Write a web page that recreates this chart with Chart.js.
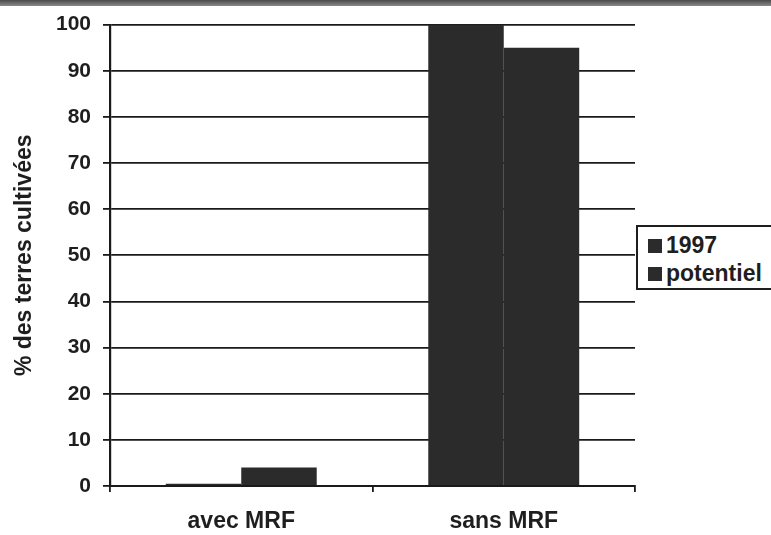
<!DOCTYPE html>
<html>
<head>
<meta charset="utf-8">
<script src="https://cdn.jsdelivr.net/npm/chart.js@4.4.0/dist/chart.umd.min.js"></script>
<style>
  html, body { margin: 0; padding: 0; background: #fff; overflow: hidden; }
  #wrap { position: relative; width: 771px; height: 535px; }
  #scan { position: absolute; left: 0; top: 0; width: 771px; height: 6px;
          background: linear-gradient(#4a4a4a, #8a8a8a); }
  #legend { position: absolute; left: 636px; top: 225px; width: 160px; height: 65px;
            border: 2px solid #1e1e1e; box-sizing: border-box; background: #fff;
            font-family: "Liberation Sans", Arial, sans-serif; font-weight: bold;
            font-size: 23px; color: #1e1e1e; }
  .item { position: absolute; left: 10px; display: flex; align-items: center; }
  .sw { width: 14px; height: 14px; background: #2b2b2b; margin-right: 4px; }
</style>
</head>
<body>
<div id="wrap">
  <canvas id="c" width="771" height="535"></canvas>
  <div id="scan"></div>
  <div id="legend"></div>
</div>
<script>
const categories = ['avec MRF', 'sans MRF'];
const series1997 = [0.5, 100];
const seriesPotentiel = [4, 95];
const seriesNames = ['1997', 'potentiel'];
const yMin = 0, yMax = 100, yStep = 10;
const yTitle = '% des terres cultivées';

const barColor = '#2b2b2b';
const lineColor = '#1a1a1a';
const textColor = '#1e1e1e';
const fontFam = '"Liberation Sans", Arial, sans-serif';

const chart = new Chart(document.getElementById('c'), {
  type: 'bar',
  data: {
    labels: categories,
    datasets: [
      { label: seriesNames[0], data: series1997, backgroundColor: barColor, borderWidth: 0,
        categoryPercentage: 0.575, barPercentage: 1.0 },
      { label: seriesNames[1], data: seriesPotentiel, backgroundColor: barColor, borderWidth: 0,
        categoryPercentage: 0.575, barPercentage: 1.0 }
    ]
  },
  options: {
    responsive: false,
    animation: false,
    devicePixelRatio: 1,
    layout: { padding: { left: 11, right: 136, top: 24, bottom: 0 } },
    plugins: { legend: { display: false }, tooltip: { enabled: false } },
    scales: {
      x: {
        offset: true,
        grid: { display: true, drawOnChartArea: false, drawTicks: true, tickLength: 6,
                color: lineColor, lineWidth: 1.8, offset: true },
        border: { display: true, color: lineColor, width: 2 },
        ticks: { color: textColor, font: { family: fontFam, size: 23, weight: 'bold' }, padding: 16 },
        afterFit: s => { s.height = 49; }
      },
      y: {
        min: yMin, max: yMax,
        ticks: { stepSize: yStep, color: textColor, padding: 12,
                 font: { family: fontFam, size: 21, weight: 'bold' } },
        grid: { color: lineColor, lineWidth: 1.8, tickLength: 7 },
        border: { display: true, color: lineColor, width: 2.2 },
        title: { display: true, text: yTitle, color: textColor, padding: { top: 0, bottom: 0 },
                 font: { family: fontFam, size: 23, weight: 'bold' } },
        afterFit: s => { s.width = 99; }
      }
    }
  }
});

// HTML legend built from the dataset names
const lg = document.getElementById('legend');
seriesNames.forEach((n, i) => {
  const d = document.createElement('div');
  d.className = 'item';
  d.style.top = (5 + i * 28) + 'px';
  d.innerHTML = '<span class="sw"></span><span>' + n + '</span>';
  lg.appendChild(d);
});
</script>
</body>
</html>
